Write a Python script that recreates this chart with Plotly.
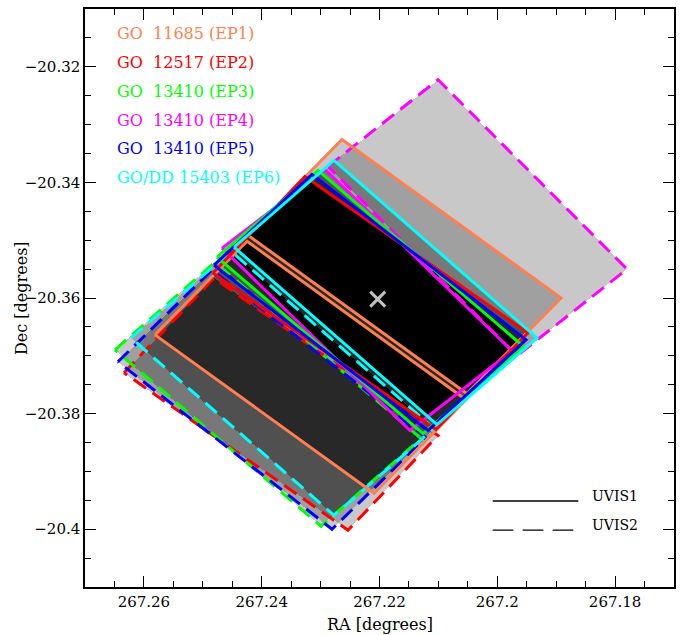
import numpy as np
import plotly.graph_objects as go

# ---------------- data (RA, Dec in degrees; chip corners ordered L, T, R, B) ----------------
EP1_UVIS1_RA  = [267.24233, 267.22637, 267.18918, 267.20514]
EP1_UVIS1_DEC = [-20.34914, -20.33259, -20.36000, -20.37655]
EP1_UVIS2_RA  = [267.25812, 267.24250, 267.20531, 267.22093]
EP1_UVIS2_DEC = [-20.36638, -20.35017, -20.37759, -20.39379]

EP2_UVIS1_RA  = [267.24827, 267.23265, 267.19479, 267.21041]
EP2_UVIS1_DEC = [-20.35569, -20.33897, -20.36603, -20.38276]
EP2_UVIS2_RA  = [267.26338, 267.24810, 267.21007, 267.22535]
EP2_UVIS2_DEC = [-20.37293, -20.35655, -20.38379, -20.40017]

EP3_UVIS1_RA  = [267.24759, 267.23044, 267.19547, 267.21261]
EP3_UVIS1_DEC = [-20.35293, -20.33793, -20.36845, -20.38345]
EP3_UVIS2_RA  = [267.26491, 267.24793, 267.21295, 267.22993]
EP3_UVIS2_DEC = [-20.36897, -20.35379, -20.38431, -20.39948]

EP4_UVIS1_RA  = [267.24674, 267.22925, 267.19750, 267.21482]
EP4_UVIS1_DEC = [-20.35138, -20.33776, -20.36914, -20.38293]
EP4_UVIS2_RA  = [267.22874, 267.21007, 267.17798, 267.19666]
EP4_UVIS2_DEC = [-20.33724, -20.32224, -20.35500, -20.37000]

EP5_UVIS1_RA  = [267.24810, 267.23146, 267.19513, 267.21177]
EP5_UVIS1_DEC = [-20.35431, -20.33862, -20.36724, -20.38293]
EP5_UVIS2_RA  = [267.26440, 267.24844, 267.21211, 267.22806]
EP5_UVIS2_DEC = [-20.37103, -20.35517, -20.38414, -20.40000]

EP6_UVIS1_RA  = [267.24470, 267.22772, 267.19326, 267.21024]
EP6_UVIS1_DEC = [-20.35121, -20.33621, -20.36690, -20.38190]
EP6_UVIS2_RA  = [267.26219, 267.24521, 267.21075, 267.22772]
EP6_UVIS2_DEC = [-20.36690, -20.35190, -20.38259, -20.39759]

TARGET_RA  = [267.2203]
TARGET_DEC = [-20.3602]

EPOCH_LABELS = ["GO\u00a0\u00a011685 (EP1)", "GO\u00a0\u00a012517 (EP2)", "GO\u00a0\u00a013410 (EP3)",
                "GO\u00a0\u00a013410 (EP4)", "GO\u00a0\u00a013410 (EP5)", "GO/DD 15403 (EP6)"]
DETECTOR_LABELS = ["UVIS1", "UVIS2"]

X_TICKVALS = [267.26, 267.24, 267.22, 267.2, 267.18]
X_TICKTEXT = ["267.26", "267.24", "267.22", "267.2", "267.18"]
Y_TICKVALS = [-20.4, -20.38, -20.36, -20.34, -20.32]
Y_TICKTEXT = ["\u221220.4", "\u221220.38", "\u221220.36", "\u221220.34", "\u221220.32"]

RA_RANGE = [267.27, 267.17]
DEC_RANGE = [-20.41, -20.31]

# ---------------- styles ----------------
COLORS = ["#FF7F50", "#FF0000", "#00FF00", "#FF00FF", "#0000FF", "#00FFFF"]
SERIF = "DejaVu Serif"

chips = {
    1: [(EP1_UVIS1_RA, EP1_UVIS1_DEC), (EP1_UVIS2_RA, EP1_UVIS2_DEC)],
    2: [(EP2_UVIS1_RA, EP2_UVIS1_DEC), (EP2_UVIS2_RA, EP2_UVIS2_DEC)],
    3: [(EP3_UVIS1_RA, EP3_UVIS1_DEC), (EP3_UVIS2_RA, EP3_UVIS2_DEC)],
    4: [(EP4_UVIS1_RA, EP4_UVIS1_DEC), (EP4_UVIS2_RA, EP4_UVIS2_DEC)],
    5: [(EP5_UVIS1_RA, EP5_UVIS1_DEC), (EP5_UVIS2_RA, EP5_UVIS2_DEC)],
    6: [(EP6_UVIS1_RA, EP6_UVIS1_DEC), (EP6_UVIS2_RA, EP6_UVIS2_DEC)],
}

# ---------------- coverage count (gray shading) ----------------
nx, ny = 589, 580
gx = np.linspace(RA_RANGE[0], RA_RANGE[1], 2 * nx + 1)[1::2]
gy = np.linspace(DEC_RANGE[0], DEC_RANGE[1], 2 * ny + 1)[1::2]
GX, GY = np.meshgrid(gx, gy)
count = np.zeros(GX.shape)
for ep in chips:
    for ra, dec in chips[ep]:
        cr = []
        for i in range(4):
            x0, y0 = ra[i], dec[i]
            x1, y1 = ra[(i + 1) % 4], dec[(i + 1) % 4]
            cr.append((x1 - x0) * (GY - y0) - (y1 - y0) * (GX - x0))
        cr = np.stack(cr)
        inside = np.all(cr >= 0, axis=0) | np.all(cr <= 0, axis=0)
        count += inside
z = np.where(count > 0, count, np.nan)

levels = ["#C8C8C8", "#A0A0A0", "#787878", "#505050", "#282828", "#000000"]
cs = []
for i, c in enumerate(levels):
    cs.append([i / 6, c])
    cs.append([(i + 1) / 6, c])

fig = go.Figure()
fig.add_trace(go.Heatmap(x=gx, y=gy, z=z, zmin=0.5, zmax=6.5, colorscale=cs,
                         showscale=False, hoverinfo="skip", zsmooth=False))

LW = 3
DASH = "15px,8px"


def add_chip(ep, k, dashed):
    ra, dec = chips[ep][k]
    fig.add_trace(go.Scatter(x=list(ra) + [ra[0]], y=list(dec) + [dec[0]], mode="lines",
                             line=dict(color=COLORS[ep - 1], width=LW, dash=DASH if dashed else "solid"),
                             hoverinfo="skip", showlegend=False))


# dashed UVIS2 chips first, then solid outlines
for ep in [4, 2, 3, 5, 6]:
    add_chip(ep, 1, True)
add_chip(1, 1, False)
add_chip(1, 0, False)
for ep in [4, 2, 3, 5, 6]:
    add_chip(ep, 0, False)

fig.add_trace(go.Scatter(x=TARGET_RA, y=TARGET_DEC, mode="markers",
                         marker=dict(symbol="x-thin", size=15, line=dict(width=3, color="#C0C0C0")),
                         hoverinfo="skip", showlegend=False))

# ---------------- text legend ----------------
ann = []
for i, lab in enumerate(EPOCH_LABELS):
    ann.append(dict(x=0.051, y=0.957 - 0.0497 * i, xref="paper", yref="paper", text=lab,
                    showarrow=False, xanchor="left", yanchor="middle",
                    font=dict(family=SERIF, size=16, color=COLORS[i])))
ann.append(dict(x=0.857, y=0.157, xref="paper", yref="paper", text=DETECTOR_LABELS[0], showarrow=False,
                xanchor="left", yanchor="middle", font=dict(family=SERIF, size=14, color="black")))
ann.append(dict(x=0.857, y=0.107, xref="paper", yref="paper", text=DETECTOR_LABELS[1], showarrow=False,
                xanchor="left", yanchor="middle", font=dict(family=SERIF, size=14, color="black")))
ann.append(dict(x=0.5008, y=-0.0655, xref="paper", yref="paper", text="RA [degrees]", showarrow=False,
                xanchor="center", yanchor="middle", font=dict(family=SERIF, size=16, color="black")))
ann.append(dict(x=-0.1087, y=0.5, xref="paper", yref="paper", text="Dec [degrees]", showarrow=False,
                textangle=-90, xanchor="center", yanchor="middle",
                font=dict(family=SERIF, size=16, color="black")))

shapes = [
    dict(type="line", xref="paper", yref="paper", x0=0.6922, x1=0.8375, y0=0.1488, y1=0.1488,
         line=dict(color="black", width=1.3)),
    dict(type="line", xref="paper", yref="paper", x0=0.6922, x1=0.8290, y0=0.0983, y1=0.0983,
         line=dict(color="black", width=1.3, dash="20.6px,9.4px")),
]

axis_common = dict(showgrid=False, zeroline=False, showline=True, linecolor="black", linewidth=1.5,
                   mirror="ticks", ticks="inside", ticklen=11, tickwidth=1, tickcolor="black",
                   tickfont=dict(family=SERIF, size=15, color="black"), tickmode="array")

fig.update_layout(
    width=685, height=635,
    margin=dict(l=85, r=11, t=7, b=48),
    paper_bgcolor="white", plot_bgcolor="white",
    xaxis=dict(range=RA_RANGE, autorange=False, tickvals=X_TICKVALS, ticktext=X_TICKTEXT,
               minor=dict(tickmode="linear", tick0=267.17, dtick=0.005, ticks="inside", ticklen=6,
                          tickwidth=1, tickcolor="black", showgrid=False),
               **axis_common),
    yaxis=dict(range=DEC_RANGE, autorange=False, tickvals=Y_TICKVALS, ticktext=Y_TICKTEXT,
               minor=dict(tickmode="linear", tick0=-20.41, dtick=0.005, ticks="inside", ticklen=6,
                          tickwidth=1, tickcolor="black", showgrid=False),
               **axis_common),
    annotations=ann,
    shapes=shapes,
    showlegend=False,
)

fig.write_html("out.html")
